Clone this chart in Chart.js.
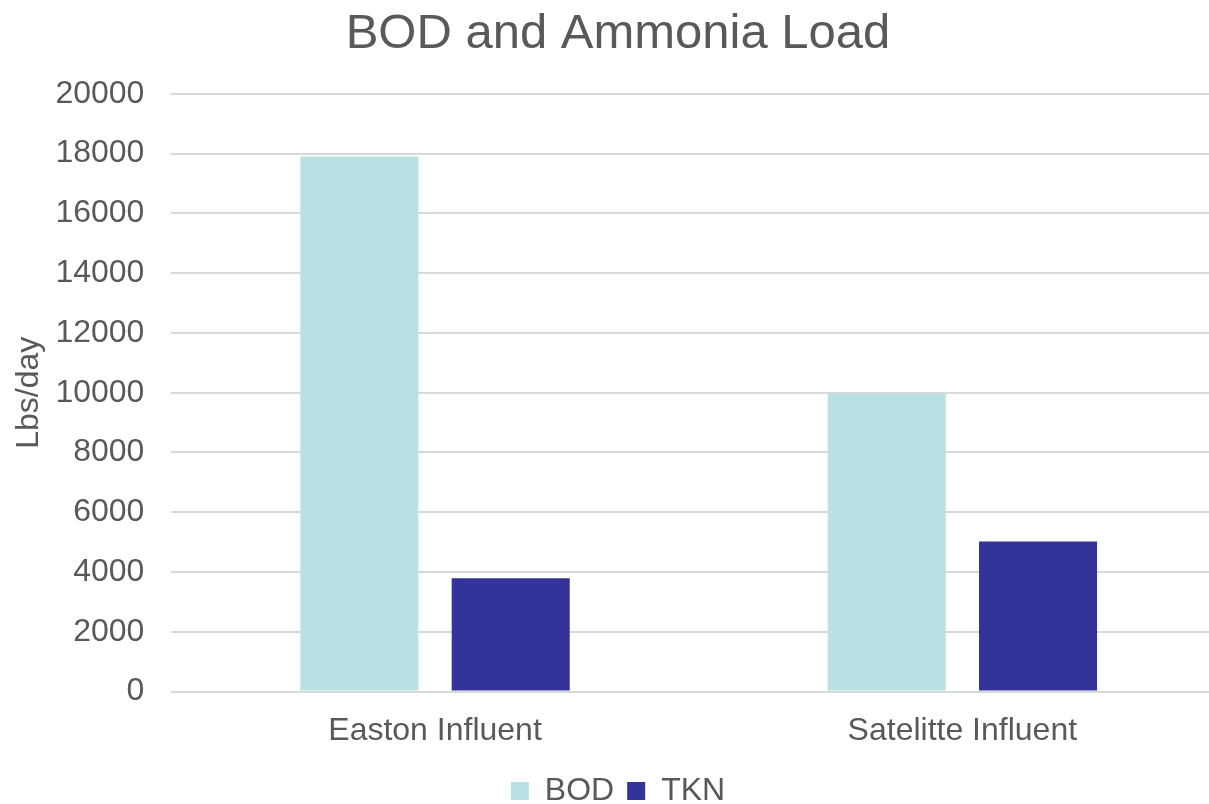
<!DOCTYPE html>
<html>
<head>
<meta charset="utf-8">
<script src="https://cdn.jsdelivr.net/npm/chart.js@4"></script>
<style>
  html, body { margin: 0; padding: 0; background: #fff; overflow: hidden; }
  #wrap { position: absolute; left: 0; top: 0; width: 1226px; height: 804px; }
</style>
</head>
<body>
<div id="wrap"><canvas id="myChart" width="1226" height="804"></canvas></div>
<script>
// data
const categories = ['Easton Influent', 'Satelitte Influent'];
const bodValues = [17900, 9960];
const tknValues = [3790, 5020];
const yTicks = [0, 2000, 4000, 6000, 8000, 10000, 12000, 14000, 16000, 18000, 20000];

const grey = '#595959';
const font = 'Liberation Sans, Arial, sans-serif';

new Chart('myChart', {
  type: 'bar',
  data: {
    labels: categories,
    datasets: [{
      label: 'BOD',
      data: bodValues,
      backgroundColor: '#b9e0e3'
    }, {
      label: 'TKN',
      data: tknValues,
      backgroundColor: '#333399'
    }]
  },
  options: {
    responsive: false,
    animation: false,
    layout: { padding: { left: 10, right: 0, top: 5, bottom: -13 } },
    datasets: { bar: { categoryPercentage: 0.574, barPercentage: 0.78 } },
    plugins: {
      title: {
        display: true,
        text: 'BOD and Ammonia Load',
        color: grey,
        font: { family: font, size: 49, weight: 'normal' },
        padding: { top: 0, bottom: 30 }
      },
      legend: {
        position: 'bottom',
        labels: {
          color: grey,
          font: { family: font, size: 32 },
          boxWidth: 18,
          boxHeight: 18,
          padding: 13
        }
      },
      tooltip: { enabled: false }
    },
    scales: {
      x: {
        grid: { display: false },
        border: { display: false },
        ticks: { color: grey, font: { family: font, size: 32 }, padding: 12 }
      },
      y: {
        min: 0,
        max: 20000,
        afterBuildTicks: axis => { axis.ticks = yTicks.map(v => ({ value: v })); },
        grid: { color: '#d9d9d9', lineWidth: 2, drawTicks: false },
        border: { display: false },
        ticks: {
          color: grey,
          font: { family: font, size: 32 },
          padding: 27,
          callback: v => String(v)
        },
        title: {
          display: true,
          text: 'Lbs/day',
          color: grey,
          font: { family: font, size: 32 },
          padding: { top: 0, bottom: -20 }
        }
      }
    }
  }
});
</script>
</body>
</html>
